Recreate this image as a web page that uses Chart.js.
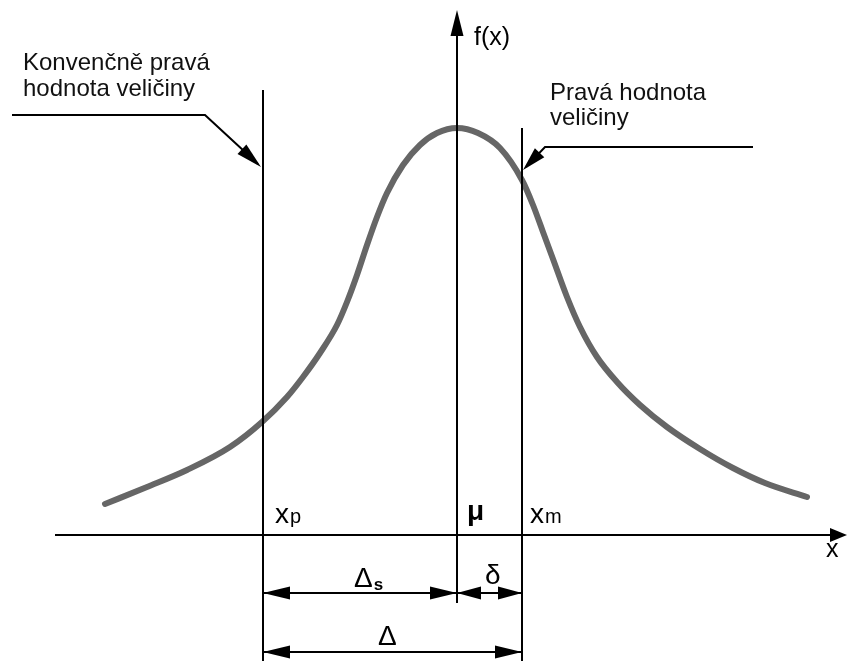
<!DOCTYPE html>
<html lang="cs">
<head>
<meta charset="UTF-8">
<title>Pravá hodnota veličiny</title>
<script src="https://cdn.jsdelivr.net/npm/chart.js"></script>
<style>
    html, body { margin: 0; padding: 0; background: #fff; }
    #wrap { width: 848px; height: 661px; position: relative; }
</style>
</head>
<body>
<div id="wrap"><canvas id="chart"></canvas></div>
<script>
// bell curve (x along the axis, f(x) = height above the axis)
const curveX = [105, 147, 187, 230, 262, 287, 303, 320, 337, 347, 357, 367, 377, 387, 403, 420, 437, 457,
                478, 500, 522, 533, 543, 553, 567, 580, 597, 617, 640, 667, 700, 733, 765, 807];
const curveY = [31, 48, 65, 88, 113, 138, 158, 182, 210, 233, 260, 290, 318, 342, 370, 390, 402, 407,
                402, 387, 355, 330, 303, 276, 238, 208, 178, 153, 130, 108, 86, 67, 52, 38];

// positions of x_p, mu, x_m on the x axis
const markerNames = ['xp', 'mu', 'xm'];
const markerX = [263, 457, 522];

const leftLabel = ['Konvenčně pravá', 'hodnota veličiny'];
const rightLabel = ['Pravá hodnota', 'veličiny'];

const FONT = '"Liberation Sans", Arial, sans-serif';

function arrowHead(ctx, x1, y1, x2, y2, len, half) {
    // filled triangle with its tip at (x2, y2), pointing away from (x1, y1)
    const a = Math.atan2(y2 - y1, x2 - x1);
    const bx = x2 - len * Math.cos(a), by = y2 - len * Math.sin(a);
    ctx.beginPath();
    ctx.moveTo(x2, y2);
    ctx.lineTo(bx + half * Math.sin(a), by - half * Math.cos(a));
    ctx.lineTo(bx - half * Math.sin(a), by + half * Math.cos(a));
    ctx.closePath();
    ctx.fill();
}

function line(ctx, pts) {
    ctx.beginPath();
    ctx.moveTo(pts[0][0], pts[0][1]);
    for (let i = 1; i < pts.length; i++) ctx.lineTo(pts[i][0], pts[i][1]);
    ctx.stroke();
}

const diagram = {
    id: 'diagram',
    afterDatasetsDraw(chart) {
        const ctx = chart.ctx;
        const sx = v => chart.scales.x.getPixelForValue(v);
        const sy = v => chart.scales.y.getPixelForValue(v);
        const xp = sx(markerX[0]), mu = sx(markerX[1]), xm = sx(markerX[2]);
        const y0 = sy(0), bottom = sy(-126);

        ctx.save();
        ctx.strokeStyle = '#000';
        ctx.fillStyle = '#000';
        ctx.lineWidth = 2;

        // x axis
        line(ctx, [[sx(55), y0], [sx(835), y0]]);
        arrowHead(ctx, sx(800), y0, sx(847), y0, 17, 7);
        // f(x) axis
        line(ctx, [[mu, sy(-68)], [mu, sy(505)]]);
        arrowHead(ctx, mu, sy(400), mu, sy(525), 26, 6.5);

        // x_p and x_m verticals
        line(ctx, [[xp, sy(445)], [xp, bottom]]);
        line(ctx, [[xm, sy(407)], [xm, bottom]]);

        // leaders
        line(ctx, [[sx(12), sy(420)], [sx(205), sy(420)], [sx(258), sy(371)]]);
        arrowHead(ctx, sx(205), sy(420), sx(261), sy(368), 26, 6.5);
        line(ctx, [[sx(753), sy(388)], [sx(545), sy(388)], [sx(526), sy(368)]]);
        arrowHead(ctx, sx(545), sy(388), sx(523), sy(365), 24, 6.5);

        // dimension lines
        const d1 = sy(-58), d2 = sy(-117);
        line(ctx, [[xp, d1], [xm, d1]]);
        arrowHead(ctx, mu, d1, xp, d1, 27, 6.5);
        arrowHead(ctx, xp, d1, mu, d1, 27, 6.5);
        arrowHead(ctx, xm, d1, mu, d1, 24, 6.5);
        arrowHead(ctx, mu, d1, xm, d1, 24, 6.5);
        line(ctx, [[xp, d2], [xm, d2]]);
        arrowHead(ctx, xm, d2, xp, d2, 27, 6.5);
        arrowHead(ctx, xp, d2, xm, d2, 27, 6.5);

        // texts
        ctx.textBaseline = 'alphabetic';
        ctx.textAlign = 'left';
        ctx.fillStyle = '#111';
        ctx.font = '24px ' + FONT;
        ctx.fillText(leftLabel[0], sx(23), sy(465));
        ctx.fillText(leftLabel[1], sx(23), sy(439));
        ctx.fillText(rightLabel[0], sx(550), sy(435));
        ctx.fillText(rightLabel[1], sx(550), sy(410));
        ctx.fillStyle = '#000';
        ctx.font = '25px ' + FONT;
        ctx.fillText('f(x)', sx(474), sy(490));
        ctx.font = '25px ' + FONT;
        ctx.fillText('x', sx(826), sy(-22));

        // marker labels on the axis
        ctx.font = '28px ' + FONT;
        ctx.fillText('x', xp + 12, sy(12));
        ctx.fillText('x', xm + 8, sy(12));
        ctx.font = '20px ' + FONT;
        ctx.fillText('p', xp + 27, sy(12));
        ctx.fillText('m', xm + 23, sy(12));
        ctx.font = 'bold 28px ' + FONT;
        ctx.fillText('\u03BC', mu + 10, sy(15));

        // dimension labels
        ctx.font = '28px ' + FONT;
        const wD = ctx.measureText('\u0394').width;
        ctx.fillText('\u0394', sx(354), sy(-52));
        ctx.fillText('\u03B4', sx(485), sy(-49));
        ctx.fillText('\u0394', sx(378), sy(-110));
        ctx.font = 'bold 17px ' + FONT;
        ctx.fillText('s', sx(354) + wD + 1, sy(-55));

        ctx.restore();
    }
};

new Chart(document.getElementById('chart'), {
    type: 'scatter',
    data: {
        datasets: [{
            label: 'f(x)',
            data: curveX.map((x, i) => ({ x: x, y: curveY[i] })),
            showLine: true,
            borderColor: '#666666',
            borderWidth: 6,
            borderCapStyle: 'round',
            pointRadius: 0,
            cubicInterpolationMode: 'monotone',
            fill: false
        }]
    },
    options: {
        responsive: true,
        maintainAspectRatio: false,
        animation: false,
        layout: { padding: 0 },
        plugins: { legend: { display: false }, tooltip: { enabled: false } },
        scales: {
            x: { type: 'linear', min: 0, max: 848, display: false },
            y: { type: 'linear', min: -126, max: 535, display: false }
        }
    },
    plugins: [diagram]
});
</script>
</body>
</html>
